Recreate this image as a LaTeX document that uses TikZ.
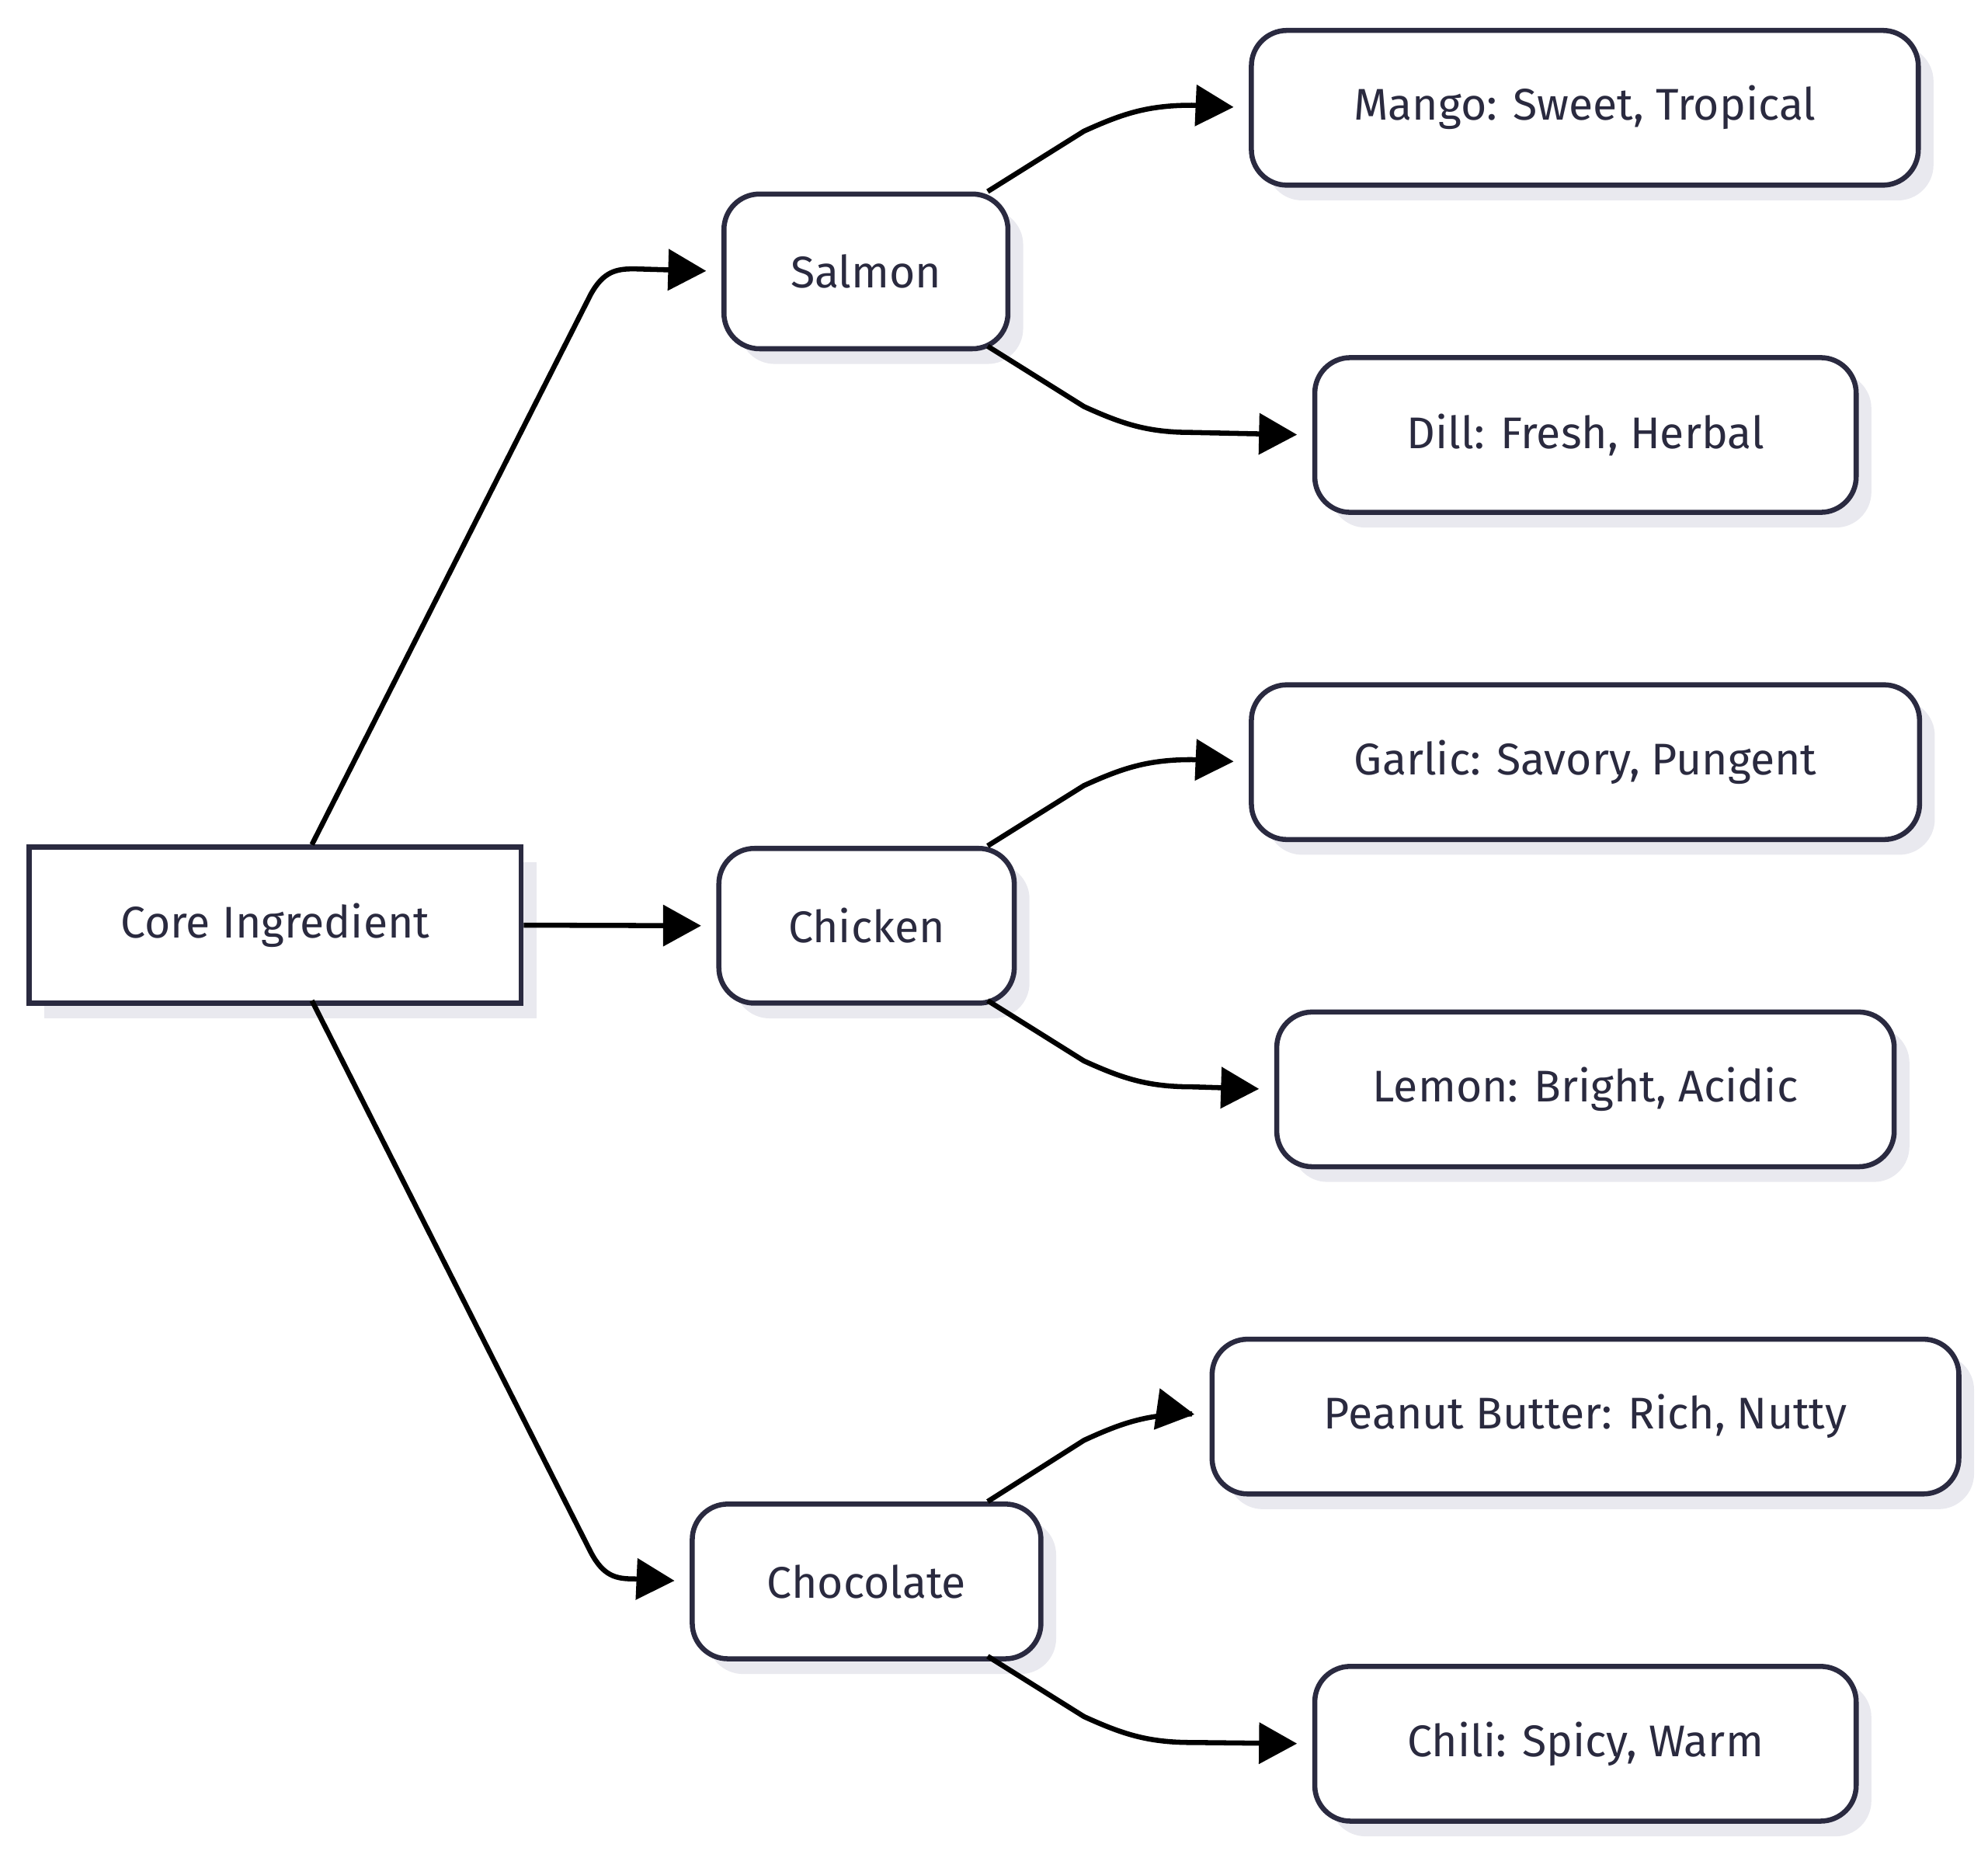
\documentclass[tikz,border=0pt]{standalone}
\usepackage{fontspec}
\setmainfont{Fira Sans}
\usetikzlibrary{arrows.meta,shadows}
\definecolor{bord}{HTML}{2A2A40}
\definecolor{txt}{HTML}{2A2A3F}
\definecolor{shd}{HTML}{E9E9EF}
\tikzset{
  box/.style={draw=bord,line width=4pt,fill=white,text=txt,font=\fontsize{35}{40}\selectfont,
    inner sep=0pt,anchor=north west,
    drop shadow={shadow xshift=12pt,shadow yshift=-12pt,fill=shd,opacity=1}},
  rbox/.style={box,rounded corners=28pt},
  arr/.style={draw=black,line width=4pt,-{Triangle[length=30pt,width=32pt]}}
}
\newcommand{\bx}[7]{% name style x1 y1 x2 y2 text
  \node[#2,minimum width=#5pt-#3pt,minimum height=#6pt-#4pt] (#1) at (#3pt,-#4pt) {#7};}
\begin{document}
\begin{tikzpicture}
\useasboundingbox (0,0) rectangle (1568pt,-1459pt);
\bx{core}{box}{21}{666}{409}{789}{Core Ingredient}
\bx{salmon}{rbox}{569}{151}{793}{273}{Salmon}
\bx{chicken}{rbox}{565}{667}{798}{789}{Chicken}
\bx{choc}{rbox}{544}{1184}{819}{1306}{Chocolate}
\bx{mango}{rbox}{985}{22}{1511}{144}{Mango: Sweet, Tropical}
\bx{dill}{rbox}{1035}{280}{1462}{402}{Dill: Fresh, Herbal}
\bx{garlic}{rbox}{985}{538}{1512}{660}{Garlic: Savory, Pungent}
\bx{lemon}{rbox}{1005}{796}{1492}{918}{Lemon: Bright, Acidic}
\bx{peanut}{rbox}{954}{1054}{1543}{1176}{Peanut Butter: Rich, Nutty}
\bx{chili}{rbox}{1035}{1312}{1462}{1434}{Chili: Spicy, Warm}
\coordinate (ct) at (246pt,-666pt);
\coordinate (cb) at (246pt,-789pt);
\draw[arr,shorten >=12pt] (ct) -- (466pt,-232pt) .. controls (476pt,-214pt) and (486pt,-212pt) .. (500pt,-212pt) -- (salmon.west);
\draw[arr,shorten >=12pt] (cb) -- (466pt,-1224pt) .. controls (476pt,-1243pt) and (486pt,-1245pt) .. (500pt,-1245pt) -- (choc.west);
\draw[arr,shorten >=12pt] (core.east) -- (chicken.west);
\foreach \s/\t/\ys/\yt in {salmon/mango/151/83, salmon/dill/273/341, chicken/garlic/667/599, chicken/lemon/789/857, choc/peanut/1184/1115, choc/chili/1306/1374}{
  \pgfmathsetmacro{\ym}{\ys+(\yt-\ys)*0.7}
  \pgfmathsetmacro{\yc}{\ys+(\yt-\ys)*0.9}
  \coordinate (s) at (779pt,-\ys pt);
  \draw[arr,shorten >=12pt] (s) -- (855pt,-\ym pt) .. controls (885pt,-\yc pt) and (905pt,-\yt pt) .. (940pt,-\yt pt) -- (\t.west);
}
\end{tikzpicture}
\end{document}
